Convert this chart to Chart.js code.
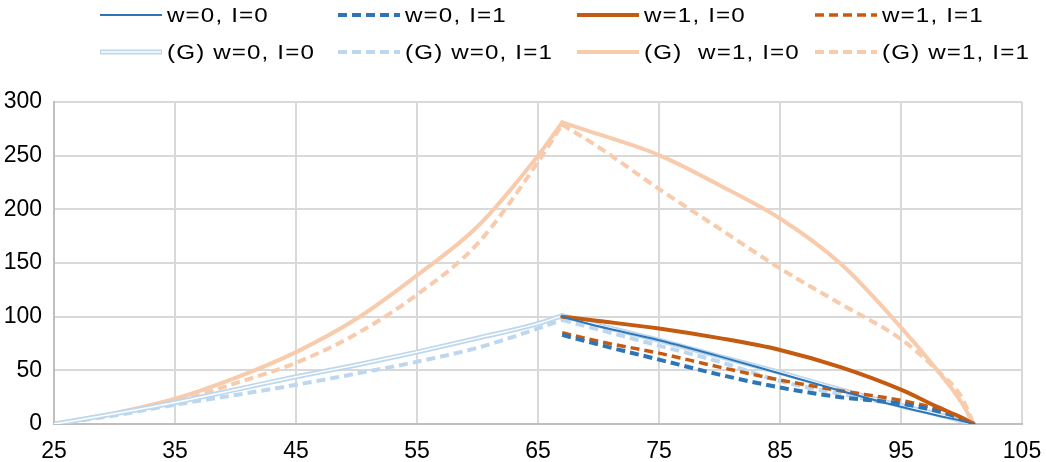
<!DOCTYPE html>
<html>
<head>
<meta charset="utf-8">
<script src="https://cdn.jsdelivr.net/npm/chart.js@4"></script>
<style>
    html, body { margin: 0; padding: 0; background: #fff; }
</style>
</head>
<body>
<canvas id="lineChart" width="1046" height="462"></canvas>
<script>
// x values shared by every series
const xValues = [25, 30, 35, 40, 45, 50, 55, 60, 65, 67, 70, 75, 80, 85, 90, 95, 98, 100, 101];
const peakIndex = 9; // x = 67

// series (null = not drawn there)
const w0I0 = [null, null, null, null, null, null, null, null, null, 100, 91, 78, 63, 47, 31, 16, 8, 3, 0];
const w0I1 = [null, null, null, null, null, null, null, null, null, 83, 74, 60, 46, 34, 25, 19, 12, 5, 0];
const w1I0 = [null, null, null, null, null, null, null, null, null, 100, 96, 89, 80, 69, 53, 32, 16, 6, 0];
const w1I1 = [null, null, null, null, null, null, null, null, null, 85, 77, 66, 53, 41, 31, 22, 14, 6, 0];
const gW0I0 = [0, 9.5, 20, 32, 44, 55, 67, 80, 93.5, 101, 92, 78, 63, 48, 32, 17, 9, 3, 0];
const gW0I1 = [0, 8, 18, 27, 36.5, 47, 58, 71, 89, 97, 88, 73, 58, 40, 28, 17, 10, 4, 0];
const gW1I0 = [0, 10, 23.5, 43, 67, 98, 138.5, 184, 250, 281, 270, 250.5, 222.5, 191.5, 149.5, 90, 50, 20, 0];
const gW1I1 = [0, 9, 20.5, 38, 57, 84, 120.5, 168, 244, 279, 258, 219, 182, 145, 112, 79, 50, 25, 0];

const xTicks = [25, 35, 45, 55, 65, 75, 85, 95, 105];
const yTicks = [0, 50, 100, 150, 200, 250, 300];

const blue = "#2E75B6";
const orange = "#C55A11";
const lightBlue = "#BDD7EE";
const lightOrange = "#F8CBAD";
const fontName = "'Liberation Sans', Arial, sans-serif";

function toPoints(values) {
    return values.map((v, i) => ({x: xValues[i], y: v}));
}

function piece(label, points, color, width, dashed, order, slot) {
    return {
        label: label,
        data: points,
        borderColor: color,
        borderWidth: width,
        borderDash: dashed ? [9, 5] : [],
        borderCapStyle: dashed ? "butt" : "round",
        borderJoinStyle: "round",
        cubicInterpolationMode: "monotone",
        pointRadius: 0,
        fill: false,
        order: order,
        legendSlot: slot,
    };
}

// the rise and the fall are drawn as two pieces so the peak stays sharp
let datasets = [];
function addSeries(label, values, color, width, dashed, order, slot) {
    const pts = toPoints(values);
    const rise = pts.slice(0, peakIndex + 1);
    const fall = pts.slice(peakIndex);
    let first = true;
    if (rise.some((p) => p.y !== null)) {
        datasets.push(piece(label, rise, color, width, dashed, order, slot));
        first = false;
    }
    datasets.push(piece(label, fall, color, width, dashed, order, first ? slot : null));
}

addSeries("w=0, I=0", w0I0, blue, 2, false, 1, [0, 0]);
addSeries("w=0, I=1", w0I1, blue, 4, true, 3, [0, 1]);
addSeries("w=1, I=0", w1I0, orange, 4, false, 2, [0, 2]);
addSeries("w=1, I=1", w1I1, orange, 3.5, true, 4, [0, 3]);
addSeries("(G) w=0, I=0", gW0I0, lightBlue, 5, false, 8, [1, 0]);
addSeries("", gW0I0, "#ffffff", 1.5, false, 7, null); // inner of the double line
addSeries("(G) w=0, I=1", gW0I1, lightBlue, 4, true, 9, [1, 1]);
addSeries("(G)  w=1, I=0", gW1I0, lightOrange, 4, false, 10, [1, 2]);
addSeries("(G) w=1, I=1", gW1I1, lightOrange, 4, true, 11, [1, 3]);

// legend laid out as a 2 x 4 grid like the original
const gridLegend = {
    id: "gridLegend",
    beforeInit(chart) {
        chart.ctx.letterSpacing = "1.5px";
    },
    afterDraw(chart) {
        const ctx = chart.ctx;
        const colX = [100, 338, 577, 815];
        const rowY = [15, 52];
        chart.data.datasets.forEach((ds) => {
            if (!ds.legendSlot) return;
            const x = colX[ds.legendSlot[1]];
            const y = rowY[ds.legendSlot[0]];
            ctx.save();
            ctx.lineCap = "butt";
            ctx.setLineDash(ds.borderDash);
            ctx.strokeStyle = ds.borderColor;
            ctx.lineWidth = ds.borderWidth;
            ctx.beginPath();
            ctx.moveTo(x, y);
            ctx.lineTo(x + 62, y);
            ctx.stroke();
            if (ds.label === "(G) w=0, I=0") {
                ctx.strokeStyle = "#ffffff";
                ctx.lineWidth = 1.5;
                ctx.beginPath();
                ctx.moveTo(x + 1, y);
                ctx.lineTo(x + 61, y);
                ctx.stroke();
            }
            ctx.setLineDash([]);
            ctx.fillStyle = "#000";
            ctx.font = "21px " + fontName;
            ctx.letterSpacing = "1px";
            ctx.textBaseline = "middle";
            ctx.textAlign = "left";
            ctx.translate(x + 67, y + 1);
            ctx.scale(1.15, 1);
            ctx.fillText(ds.label, 0, 0);
            ctx.restore();
        });
    },
};

const ctx = document.getElementById("lineChart");

new Chart(ctx, {
    type: "line",
    data: {datasets: datasets},
    plugins: [gridLegend],
    options: {
        responsive: false,
        animation: false,
        layout: {padding: {left: 0, right: 24, top: 102, bottom: 0}},
        scales: {
            x: {
                type: "linear",
                min: 25,
                max: 105,
                afterBuildTicks: (scale) => {
                    scale.ticks = xTicks.map((v) => ({value: v}));
                },
                afterFit: (scale) => {
                    scale.height = 38;
                    scale.paddingLeft = 0;
                    scale.paddingRight = 0;
                },
                grid: {color: "#d9d9d9", lineWidth: 2, drawTicks: false},
                border: {color: "#bfbfbf", width: 2},
                ticks: {
                    color: "#000",
                    padding: 14,
                    maxRotation: 0,
                    font: {family: fontName, size: 23},
                },
            },
            y: {
                min: 0,
                max: 300,
                afterBuildTicks: (scale) => {
                    scale.ticks = yTicks.map((v) => ({value: v}));
                },
                afterFit: (scale) => {
                    scale.width = 54;
                    scale.paddingTop = 0;
                    scale.paddingBottom = 0;
                },
                grid: {color: "#d9d9d9", lineWidth: 2, drawTicks: false},
                border: {color: "#bfbfbf", width: 2},
                ticks: {
                    color: "#000",
                    padding: 12,
                    font: {family: fontName, size: 23},
                },
            },
        },
        plugins: {
            legend: {display: false},
            tooltip: {enabled: false},
        },
    },
});
</script>
</body>
</html>
